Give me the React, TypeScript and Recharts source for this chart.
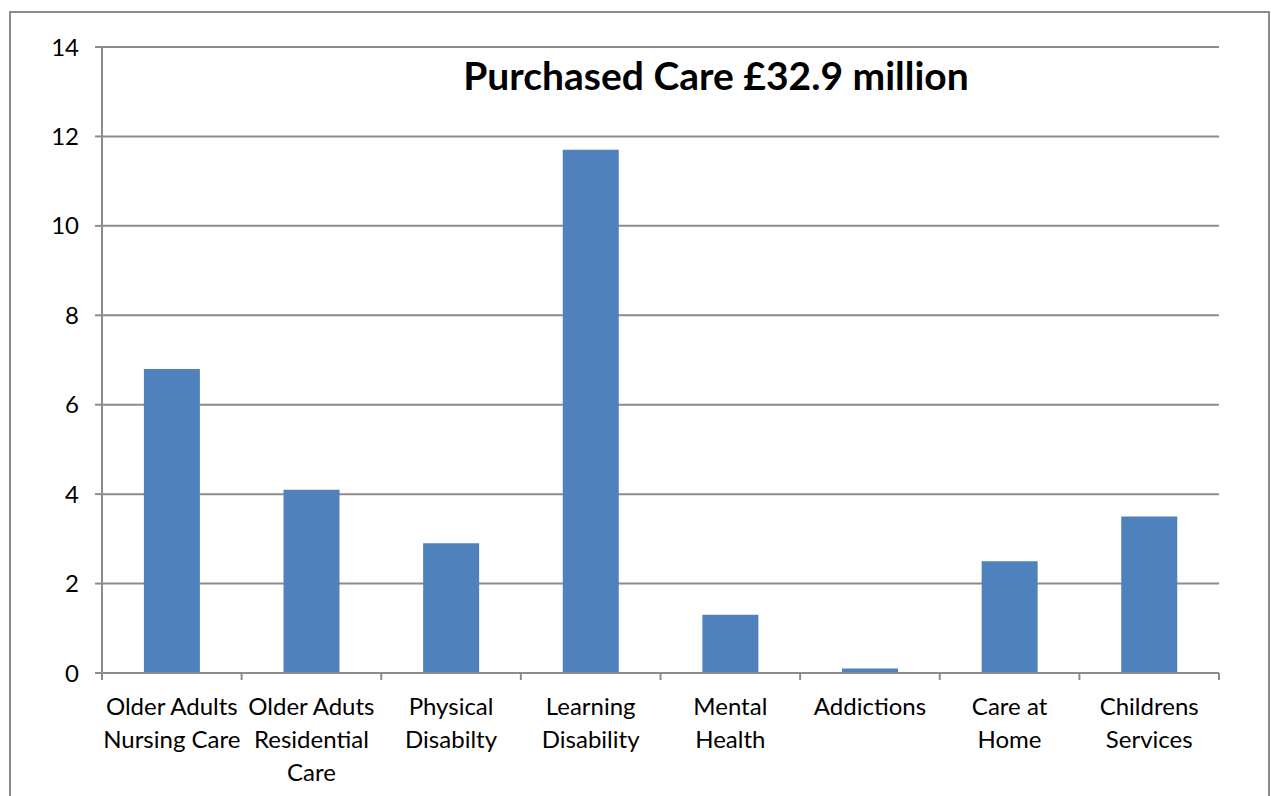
import { BarChart, Bar, XAxis, YAxis, CartesianGrid } from 'recharts';

const categories = [
  'Older Adults\nNursing Care',
  'Older Aduts\nResidential\nCare',
  'Physical\nDisabilty',
  'Learning\nDisability',
  'Mental\nHealth',
  'Addictions',
  'Care at\nHome',
  'Childrens\nServices',
];
const values = [6.8, 4.1, 2.9, 11.7, 1.3, 0.1, 2.5, 3.5];
const yTicks = [0, 2, 4, 6, 8, 10, 12, 14];

const data = categories.map((name, i) => ({ name, value: values[i] }));

const FONT = 'Lato, "Open Sans", sans-serif';
const GREY = '#8c8c8c';
const CHART_W = 1271;
const MARGIN = { top: 47, right: 52, bottom: 0, left: 0 };
const Y_W = 102;
const BAND = (CHART_W - MARGIN.right - MARGIN.left - Y_W) / categories.length;

// multi-line category labels, tick marks sit on the category boundaries
const CategoryTick = (props: any) => {
  const { x, y, payload, index } = props;
  const lines = String(payload.value).split('\n');
  const top = y - 9;
  return (
    <g>
      <line x1={x - BAND / 2} x2={x - BAND / 2} y1={top} y2={top + 7} stroke={GREY} strokeWidth={2} />
      {index === categories.length - 1 && (
        <line x1={x + BAND / 2} x2={x + BAND / 2} y1={top} y2={top + 7} stroke={GREY} strokeWidth={2} />
      )}
      <text x={x} y={y} textAnchor="middle" fill="#000" fontSize={24} fontFamily={FONT}>
        {lines.map((line: string, i: number) => (
          <tspan key={i} x={x} dy={i === 0 ? 33 : 33}>
            {line}
          </tspan>
        ))}
      </text>
    </g>
  );
};

export default function App() {
  return (
    <div style={{ position: 'absolute', left: 0, top: 0, width: 1271, height: 796, overflow: 'hidden', background: '#fff' }}>
      <div
        style={{
          position: 'absolute',
          left: 9,
          top: 11,
          width: 1257,
          height: 820,
          border: `2px solid ${GREY}`,
        }}
      />
      <BarChart width={CHART_W} height={796} data={data} margin={MARGIN} barCategoryGap="30%">
        <CartesianGrid horizontal vertical={false} stroke={GREY} strokeWidth={2} />
        <XAxis
          dataKey="name"
          interval={0}
          height={123}
          stroke={GREY}
          strokeWidth={2}
          tickLine={false}
          tickSize={7}
          tick={<CategoryTick />}
        />
        <YAxis
          width={Y_W}
          domain={[0, 14]}
          ticks={yTicks}
          interval={0}
          stroke={GREY}
          strokeWidth={2}
          tickSize={7}
          tickMargin={16}
          tick={{ fill: '#000', fontSize: 24, fontFamily: FONT }}
        />
        <Bar dataKey="value" fill="#4f81bd" isAnimationActive={false} />
      </BarChart>
      <div
        style={{
          position: 'absolute',
          left: 716,
          top: 52,
          transform: 'translateX(-50%)',
          whiteSpace: 'nowrap',
          fontFamily: FONT,
          fontWeight: 'bold',
          fontSize: 39,
          color: '#000',
        }}
      >
        Purchased Care £32.9 million
      </div>
    </div>
  );
}
